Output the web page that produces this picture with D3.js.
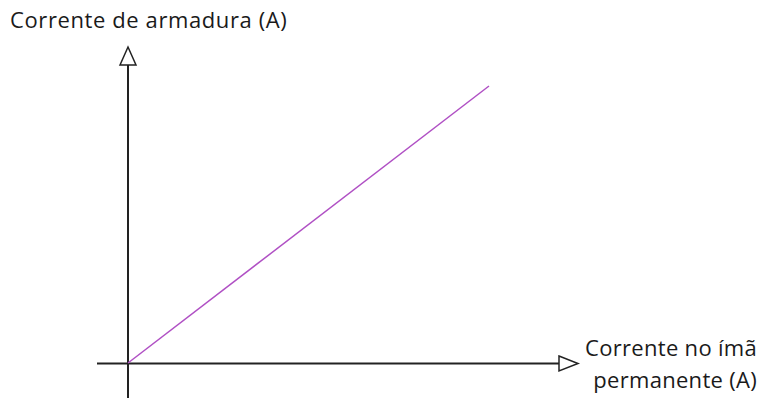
<!DOCTYPE html>
<html lang="pt">
<head>
  <meta charset="UTF-8">
  <title>Corrente de armadura vs corrente no ímã</title>
  <style>
    body { margin: 0; background: #fff; }
    text { font-family: "Open Sans", "DejaVu Sans", sans-serif; fill: #1a1a1a; }
  </style>
</head>
<body>
  <div id="graph-container"></div>
  <script src="https://d3js.org/d3.v7.min.js"></script>
  <script>
    // data: a straight line through the origin
    const xValues = [0, 1];
    const yValues = [0, 1];
    const yTitle = "Corrente de armadura (A)";
    const xTitleLines = ["Corrente no ímã", "permanente (A)"];

    const width = 760, height = 401;
    const origin = { x: 128, y: 363 };

    const svg = d3.select("#graph-container")
      .append("svg")
        .attr("width", width)
        .attr("height", height);

    const xScale = d3.scaleLinear().domain([0, 1]).range([origin.x, 489]);
    const yScale = d3.scaleLinear().domain([0, 1]).range([origin.y, 86]);

    // axes
    svg.append("line")
      .attr("x1", 97).attr("y1", origin.y + 0.5)
      .attr("x2", 559).attr("y2", origin.y + 0.5)
      .attr("stroke", "#222").attr("stroke-width", 2);

    svg.append("line")
      .attr("x1", origin.x).attr("y1", 398)
      .attr("x2", origin.x).attr("y2", 65)
      .attr("stroke", "#222").attr("stroke-width", 2);

    // arrow heads (hollow)
    svg.append("path")
      .attr("d", `M${origin.x - 8},65 L${origin.x},47 L${origin.x + 8},65 Z`)
      .attr("fill", "#fff").attr("stroke", "#222").attr("stroke-width", 1.5);

    svg.append("path")
      .attr("d", `M559,${origin.y - 7} L578,${origin.y + 0.5} L559,${origin.y + 8} Z`)
      .attr("fill", "#fff").attr("stroke", "#222").attr("stroke-width", 1.5);

    // the line
    const pts = xValues.map((x, i) => [x, yValues[i]]);
    svg.append("path")
      .datum(pts)
      .attr("d", d3.line().x(d => xScale(d[0])).y(d => yScale(d[1])))
      .attr("fill", "none")
      .attr("stroke", "#b050c4")
      .attr("stroke-width", 1.5);

    // labels
    svg.append("text")
      .attr("x", 10).attr("y", 28)
      .style("font-size", "22px")
      .style("letter-spacing", "0.6px")
      .text(yTitle);

    svg.selectAll(".xlab")
      .data(xTitleLines)
      .enter()
      .append("text")
        .attr("class", "xlab")
        .attr("x", 757)
        .attr("y", (d, i) => 356 + i * 32)
        .attr("text-anchor", "end")
        .style("font-size", "22px")
        .style("letter-spacing", "0.3px")
        .text(d => d);
  </script>
</body>
</html>
